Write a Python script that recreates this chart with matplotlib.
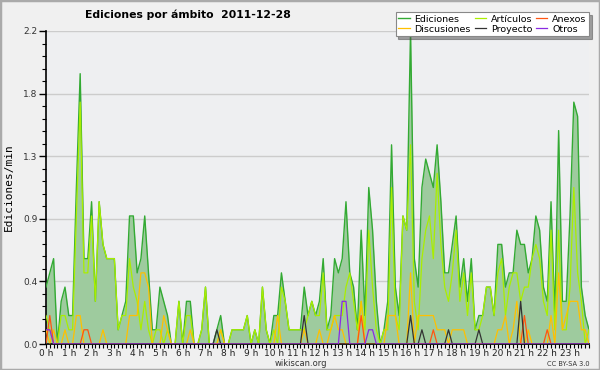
import numpy as np
import matplotlib
matplotlib.use("Agg")
import matplotlib.pyplot as plt
from matplotlib.patches import Rectangle

# edits per minute, 10-minute buckets (144 per day)
ediciones = [0.4, 0.5, 0.6, 0.0, 0.3, 0.4, 0.2, 0.2, 1.1, 1.9, 0.6, 0.6, 1.0, 0.3, 1.0, 0.7, 0.6, 0.6, 0.6, 0.1, 0.2, 0.3, 0.9, 0.9,
             0.5, 0.6, 0.9, 0.5, 0.1, 0.1, 0.4, 0.3, 0.2, 0.0, 0.0, 0.3, 0.0, 0.3, 0.3, 0.0, 0.0, 0.1, 0.4, 0.0, 0.0, 0.1, 0.2, 0.0,
             0.0, 0.1, 0.1, 0.1, 0.1, 0.2, 0.0, 0.1, 0.0, 0.4, 0.1, 0.0, 0.2, 0.2, 0.5, 0.3, 0.1, 0.1, 0.1, 0.1, 0.4, 0.2, 0.3, 0.2,
             0.3, 0.6, 0.1, 0.2, 0.6, 0.5, 0.6, 1.0, 0.5, 0.4, 0.1, 0.8, 0.2, 1.1, 0.8, 0.3, 0.0, 0.1, 0.3, 1.4, 0.4, 0.2, 0.9, 0.8,
             2.2, 0.6, 0.4, 1.1, 1.3, 1.2, 1.1, 1.4, 1.0, 0.5, 0.5, 0.7, 0.9, 0.4, 0.6, 0.3, 0.6, 0.1, 0.2, 0.2, 0.4, 0.4, 0.2, 0.7,
             0.7, 0.4, 0.5, 0.5, 0.8, 0.7, 0.7, 0.5, 0.6, 0.9, 0.8, 0.4, 0.3, 1.0, 0.2, 1.5, 0.3, 0.3, 0.9, 1.7, 1.6, 0.4, 0.2, 0.1]

articulos = [0.2, 0.1, 0.0, 0.0, 0.2, 0.2, 0.1, 0.1, 0.9, 1.7, 0.5, 0.5, 0.9, 0.3, 1.0, 0.7, 0.6, 0.6, 0.6, 0.1, 0.2, 0.2, 0.6, 0.4,
             0.3, 0.1, 0.3, 0.1, 0.0, 0.1, 0.1, 0.0, 0.1, 0.0, 0.0, 0.3, 0.0, 0.2, 0.2, 0.0, 0.0, 0.1, 0.4, 0.0, 0.0, 0.0, 0.1, 0.0,
             0.0, 0.1, 0.1, 0.1, 0.1, 0.2, 0.0, 0.1, 0.0, 0.4, 0.1, 0.0, 0.1, 0.0, 0.4, 0.3, 0.1, 0.1, 0.1, 0.1, 0.1, 0.2, 0.3, 0.2,
             0.2, 0.5, 0.1, 0.1, 0.2, 0.2, 0.2, 0.4, 0.5, 0.3, 0.1, 0.3, 0.1, 0.8, 0.4, 0.1, 0.0, 0.1, 0.1, 1.1, 0.2, 0.1, 0.9, 0.8,
             1.4, 0.3, 0.1, 0.6, 0.8, 0.9, 0.6, 1.2, 0.7, 0.4, 0.3, 0.5, 0.8, 0.3, 0.5, 0.2, 0.5, 0.1, 0.1, 0.2, 0.4, 0.4, 0.2, 0.5,
             0.6, 0.2, 0.4, 0.5, 0.5, 0.3, 0.4, 0.4, 0.6, 0.7, 0.6, 0.3, 0.2, 0.8, 0.1, 0.8, 0.1, 0.1, 0.4, 1.1, 0.5, 0.3, 0.0, 0.1]

discusiones = [0.1, 0.0, 0.1, 0.0, 0.0, 0.1, 0.0, 0.0, 0.2, 0.2, 0.0, 0.0, 0.0, 0.0, 0.0, 0.1, 0.0, 0.0, 0.0, 0.0, 0.0, 0.0, 0.2, 0.2,
               0.2, 0.5, 0.5, 0.4, 0.0, 0.0, 0.0, 0.2, 0.1, 0.0, 0.0, 0.0, 0.0, 0.0, 0.1, 0.0, 0.0, 0.0, 0.0, 0.0, 0.0, 0.0, 0.1, 0.0,
               0.0, 0.0, 0.0, 0.0, 0.0, 0.0, 0.0, 0.0, 0.0, 0.0, 0.0, 0.0, 0.0, 0.2, 0.0, 0.0, 0.0, 0.0, 0.0, 0.0, 0.1, 0.0, 0.0, 0.0,
               0.1, 0.0, 0.0, 0.1, 0.2, 0.1, 0.1, 0.0, 0.0, 0.0, 0.0, 0.3, 0.0, 0.0, 0.0, 0.0, 0.0, 0.0, 0.2, 0.2, 0.2, 0.0, 0.0, 0.0,
               0.5, 0.0, 0.2, 0.2, 0.2, 0.2, 0.2, 0.1, 0.1, 0.1, 0.0, 0.1, 0.1, 0.1, 0.1, 0.0, 0.0, 0.0, 0.0, 0.0, 0.0, 0.0, 0.0, 0.1,
               0.1, 0.2, 0.0, 0.1, 0.3, 0.0, 0.0, 0.1, 0.0, 0.0, 0.0, 0.0, 0.0, 0.2, 0.0, 0.5, 0.1, 0.2, 0.3, 0.3, 0.3, 0.1, 0.1, 0.0]

anexos = [0.0] * 144
for i, v in [(1, 0.2), (10, 0.1), (11, 0.1), (83, 0.2), (102, 0.1), (126, 0.2), (132, 0.1)]:
    anexos[i] = v

proyecto = [0.0] * 144
for i, v in [(45, 0.1), (68, 0.2), (96, 0.2), (99, 0.1), (106, 0.1), (114, 0.1), (125, 0.3)]:
    proyecto[i] = v

otros = [0.0] * 144
for i, v in [(0, 0.1), (1, 0.1), (78, 0.3), (79, 0.3), (85, 0.1), (86, 0.1)]:
    otros[i] = v

hour_labels = [f"{h} h" for h in range(24)]

x = np.arange(len(ediciones))

fig = plt.figure(figsize=(6, 3.7), dpi=100, facecolor="#f0f0f0")
ax = fig.add_axes([46 / 600, 1 - 344 / 370, 543 / 600, 313 / 370])
ax.set_facecolor("#eeeff1")

ax.fill_between(x, ediciones, color="#9ecb9e", lw=0, zorder=2)
ax.plot(x, ediciones, color="#33aa33", lw=1.0, zorder=3, label="Ediciones")
ax.plot(x, articulos, color="#aaee00", lw=0.9, zorder=4, label="Artículos")
ax.plot(x, discusiones, color="#ffc000", lw=0.9, zorder=5, label="Discusiones")
ax.plot(x, anexos, color="#ff5511", lw=0.9, zorder=6, label="Anexos")
ax.plot(x, proyecto, color="#333333", lw=0.9, zorder=7, label="Proyecto")
ax.plot(x, otros, color="#8a2be2", lw=0.9, zorder=8, label="Otros")

ax.set_xlim(0, 143)
ax.set_ylim(0, 2.2)

yt = np.linspace(0, 2.2, 6)
ax.set_yticks(yt)
ax.set_yticklabels([f"{v:.1f}" for v in yt], fontsize=6.5, color="#333333")
ax.set_yticks(np.linspace(0, 2.2, 26), minor=True)
ax.set_xticks(np.arange(0, 144, 6))
ax.set_xticklabels(hour_labels, fontsize=6.5, color="#222222")
ax.set_xticks(x, minor=True)
ax.tick_params(axis="y", which="major", length=5, width=1, pad=1)
ax.tick_params(axis="y", which="minor", length=3, width=0.8)
ax.tick_params(axis="x", which="both", length=3, width=0.8, pad=0.5)

ax.grid(axis="y", which="major", color="#cccccc", lw=1, zorder=1)
ax.set_axisbelow(True)
for s in ["top", "right"]:
    ax.spines[s].set_visible(False)
ax.spines["left"].set_linewidth(1.2)
ax.spines["bottom"].set_linewidth(1.2)

ax.set_ylabel("Ediciones/min", family="DejaVu Sans Mono", fontsize=8)
ax.yaxis.set_label_coords(-0.06, 0.5)

fig.text(85 / 600, 1 - 15 / 370, "Ediciones por ámbito  2011-12-28", fontsize=7.8,
         fontweight="bold", va="center", ha="left")
fig.text(301 / 600, 1 - 363.5 / 370, "wikiscan.org", fontsize=6, color="#333333",
         ha="center", va="center")
fig.text(590 / 600, 1 - 363.5 / 370, "CC BY-SA 3.0", fontsize=4.8, color="#333333",
         ha="right", va="center")

handles, labels = ax.get_legend_handles_labels()
order = [0, 2, 1, 4, 3, 5]
leg = fig.legend([handles[k] for k in order], [labels[k] for k in order], ncol=3,
                 loc="upper right", bbox_to_anchor=(594 / 600, 1 - 7 / 370),
                 fontsize=6.8, frameon=True, fancybox=False, shadow=True,
                 handlelength=1.2, handletextpad=0.5, columnspacing=0.4,
                 labelspacing=0.1, borderpad=0.3)
leg.get_frame().set_edgecolor("#888888")
leg.get_frame().set_linewidth(0.8)

fig.patches.append(Rectangle((0, 0), 1, 1, transform=fig.transFigure, fill=False,
                             edgecolor="#aaaaaa", lw=2.5))

fig.savefig("out.png", dpi=100, facecolor=fig.get_facecolor())
